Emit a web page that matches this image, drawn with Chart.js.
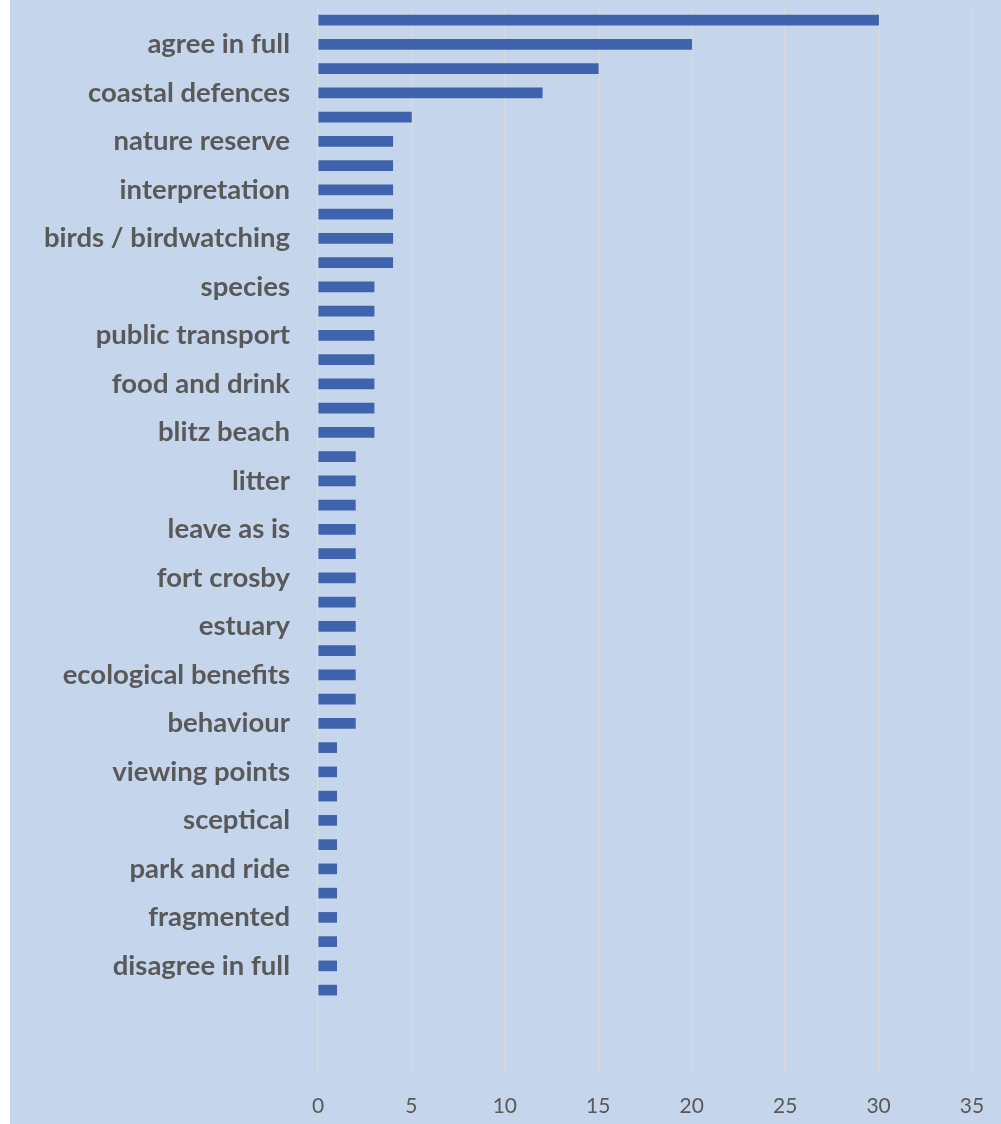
<!DOCTYPE html>
<html>
<head>
<meta charset="utf-8">
<script src="https://cdn.jsdelivr.net/npm/chart.js@4/dist/chart.umd.min.js"></script>
<style>
  html, body { margin: 0; padding: 0; background: #ffffff; }
  #wrap { position: absolute; left: 10px; top: 0; width: 991px; height: 1124px; background: #C5D5EC; }
  canvas { display: block; }
</style>
</head>
<body>
<div id="wrap"><canvas id="c" width="991" height="1124"></canvas></div>
<script>
const categories = [
  "", "agree in full", "", "coastal defences", "", "nature reserve", "", "interpretation",
  "", "birds / birdwatching", "", "species", "", "public transport", "", "food and drink",
  "", "blitz beach", "", "litter", "", "leave as is", "", "fort crosby",
  "", "estuary", "", "ecological benefits", "", "behaviour", "", "viewing points",
  "", "sceptical", "", "park and ride", "", "fragmented", "", "disagree in full",
  "", "", "", ""
];
const counts = [
  30, 20, 15, 12, 5, 4, 4, 4,
  4, 4, 4, 3, 3, 3, 3, 3,
  3, 3, 2, 2, 2, 2, 2, 2,
  2, 2, 2, 2, 2, 2, 1, 1,
  1, 1, 1, 1, 1, 1, 1, 1,
  1, null, null, null
];
const xTicks = [0, 5, 10, 15, 20, 25, 30, 35];

new Chart(document.getElementById('c'), {
  type: 'bar',
  data: {
    labels: categories,
    datasets: [{
      data: counts,
      backgroundColor: '#3F64AD',
      borderWidth: 0,
      barThickness: 10
    }]
  },
  options: {
    indexAxis: 'y',
    responsive: false,
    animation: false,
    layout: { padding: { top: 8, right: 29, bottom: 0, left: 0 } },
    plugins: { legend: { display: false }, tooltip: { enabled: false } },
    scales: {
      x: {
        min: xTicks[0],
        max: xTicks[xTicks.length - 1],
        afterBuildTicks: (axis) => { axis.ticks = xTicks.map(v => ({ value: v })); },
        afterFit: (axis) => { axis.height = 49; axis.paddingLeft = 0; axis.paddingRight = 0; },
        grid: { color: '#D9D9D9', lineWidth: 1.5, drawTicks: false },
        border: { display: false },
        ticks: { padding: 19, maxRotation: 0, color: '#595959', font: { family: 'Lato', size: 21 } }
      },
      y: {
        afterFit: (axis) => { axis.width = 308; axis.paddingTop = 0; axis.paddingBottom = 0; },
        grid: { display: false, drawTicks: false },
        border: { display: false },
        ticks: {
          autoSkip: false,
          padding: 28,
          color: '#595959',
          font: { family: 'Lato', size: 27.5, weight: 'bold' }
        }
      }
    }
  }
});
</script>
</body>
</html>
